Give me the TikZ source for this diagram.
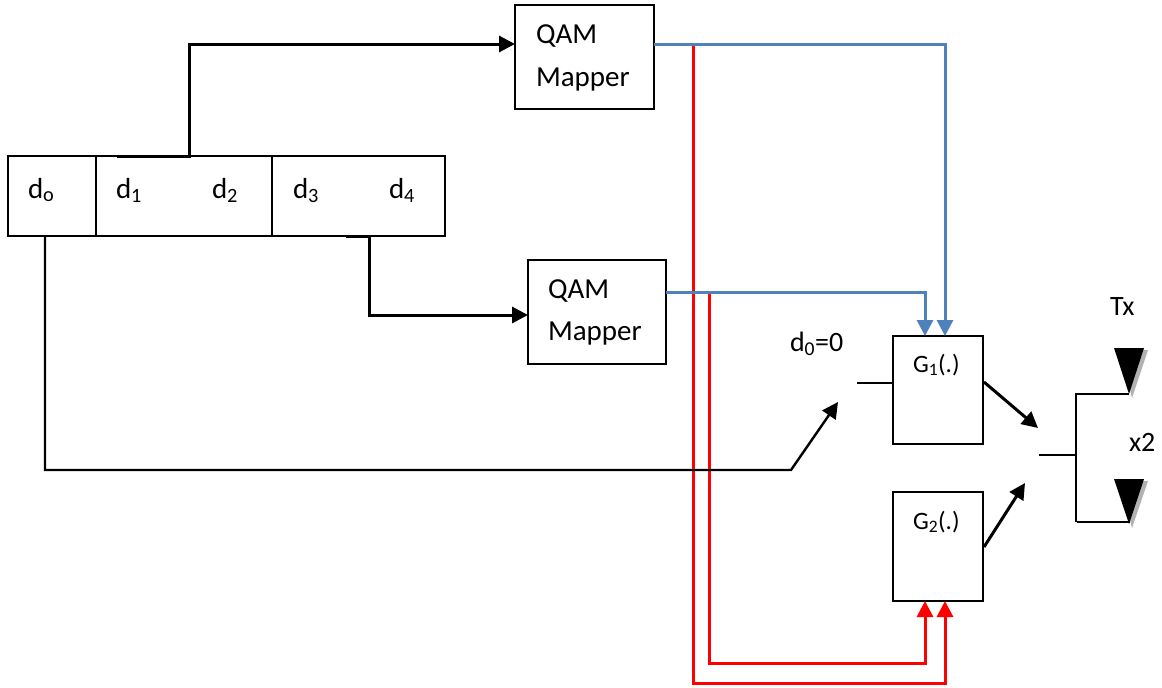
\documentclass[tikz,border=0pt]{standalone}
\usepackage{fontspec}
\setmainfont{Carlito}
\usetikzlibrary{arrows.meta}
\newcommand{\bigfs}{\fontsize{29}{34}\selectfont}
\newcommand{\midfs}{\fontsize{28}{32}\selectfont}
\newcommand{\smallfs}{\fontsize{25}{30}\selectfont}
\begin{document}
\begin{tikzpicture}[x=1pt,y=-1pt,
  box/.style={draw=black,line width=2.2pt,fill=white,inner sep=0pt,outer sep=0pt},
  lab/.style={inner sep=0pt,outer sep=0pt,anchor=base west,font=\bigfs},
  mlab/.style={inner sep=0pt,outer sep=0pt,anchor=base west,font=\midfs},
  slab/.style={inner sep=0pt,outer sep=0pt,anchor=base west,font=\smallfs},
  blk/.style={draw=black,line width=2.4pt},
  thickblk/.style={draw=black,line width=3pt,-{Triangle[length=16pt,width=16pt]}},
  blkarrow/.style={blk,-{Triangle[length=16pt,width=16pt]}},
  bluearrow/.style={draw=blueline,line width=3pt,-{Triangle[length=16pt,width=16pt]}},
  redarrow/.style={draw=red,line width=3pt,-{Triangle[length=16pt,width=16pt]}},
  ant/.style={fill=black,draw=none},
  antsh/.style={fill=black!30,draw=none}]
\definecolor{blueline}{HTML}{4F81BD}
\useasboundingbox (0,0) rectangle (1162,688);
\fill[white] (0,0) rectangle (1162,688);
% boxes
\node[box,minimum width=139pt,minimum height=104pt] (qam1) at (584.5,57) {};
\node[box,minimum width=138pt,minimum height=104pt] (qam2) at (597,312) {};
\node[box,minimum width=88pt,minimum height=80pt] (r0) at (52,196) {};
\node[box,minimum width=176pt,minimum height=80pt] (r1) at (184,196) {};
\node[box,minimum width=173pt,minimum height=80pt] (r2) at (358.5,196) {};
\node[box,minimum width=90pt,minimum height=108pt] (g1) at (938,390) {};
\node[box,minimum width=90pt,minimum height=109pt] (g2) at (938,546.5) {};
% coordinates
\coordinate (a1) at (117,156);
\coordinate (a2) at (346,236);
\coordinate (d0s) at (45,236);
\coordinate (sw1) at (838,402);
\coordinate (sw2) at (857,383);
\coordinate (c1) at (1038,428);
\coordinate (c2) at (1025,483);
\coordinate (c3) at (1039,455);
\coordinate (q1o) at (654,44);
\coordinate (q2o) at (666,292);
\coordinate (g1a) at (925,336);
\coordinate (g1b) at (945,336);
\coordinate (g2a) at (925,601);
\coordinate (g2b) at (945,601);
\coordinate (r1s) at (693,44);
\coordinate (r2s) at (709,292);
\coordinate (t1) at (1129,394);
\coordinate (t2) at (1130,522);
% red
\draw[redarrow] (r1s) -- (693,683) -- (945,683) -- (g2b);
\draw[redarrow] (r2s) -- (709,663) -- (925,663) -- (g2a);
% blue
\draw[bluearrow] (q1o) -- (945,44) -- (g1b);
\draw[bluearrow] (q2o) -- (925,292) -- (g1a);
% black
\draw[thickblk] (a1) -- (189,156) -- (189,44) -- (qam1.west |- 0,44);
\draw[thickblk] (a2) -- (369,236) -- (369,315) -- (qam2.west |- 0,315);
\draw[blkarrow] (d0s) -- (45,470) -- (791,470) -- (sw1);
\draw[blk] (sw2) -- (g1.west |- sw2);
\draw[thickblk] (984,382) -- (c1);
\draw[thickblk] (984,547) -- (c2);
\draw[blk] (c3) -- (1076,455);
\draw[blk] (1076,394) -- (1076,522);
\draw[blk] (1075,394) -- (t1);
\draw[blk] (1077,522) -- (t2);
% antennas
\fill[antsh] (1120,350) -- (1148,350) -- (1132,398) -- cycle;
\fill[ant] (1114,348) -- (1144,348) -- (1129,394) -- cycle;
\fill[antsh] (1120,481) -- (1148,481) -- (1132,528) -- cycle;
\fill[ant] (1114,479) -- (1144,479) -- (1129,524) -- cycle;
% text
\node[lab] (tq1) at (536,43) {QAM};
\node[lab] (tm1) at (536,86) {Mapper};
\node[lab] (tq2) at (548,298) {QAM};
\node[lab] (tm2) at (548,340) {Mapper};
\node[lab] (d0) at (28,198) {d\textsubscript{o}};
\node[lab] (d1) at (116,198) {d\textsubscript{1}};
\node[lab] (d2) at (212,198) {d\textsubscript{2}};
\node[lab] (d3) at (293,198) {d\textsubscript{3}};
\node[lab] (d4) at (389,198) {d\textsubscript{4}};
\node[mlab] (dz) at (790,351) {d\textsubscript{0}=0};
\node[slab] (g1t) at (913,372) {G\textsubscript{1}(.)};
\node[slab] (g2t) at (913,529) {G\textsubscript{2}(.)};
\node[mlab] (tx) at (1110,315) {Tx};
\node[mlab] (x2) at (1129,451) {x2};
\end{tikzpicture}
\end{document}
